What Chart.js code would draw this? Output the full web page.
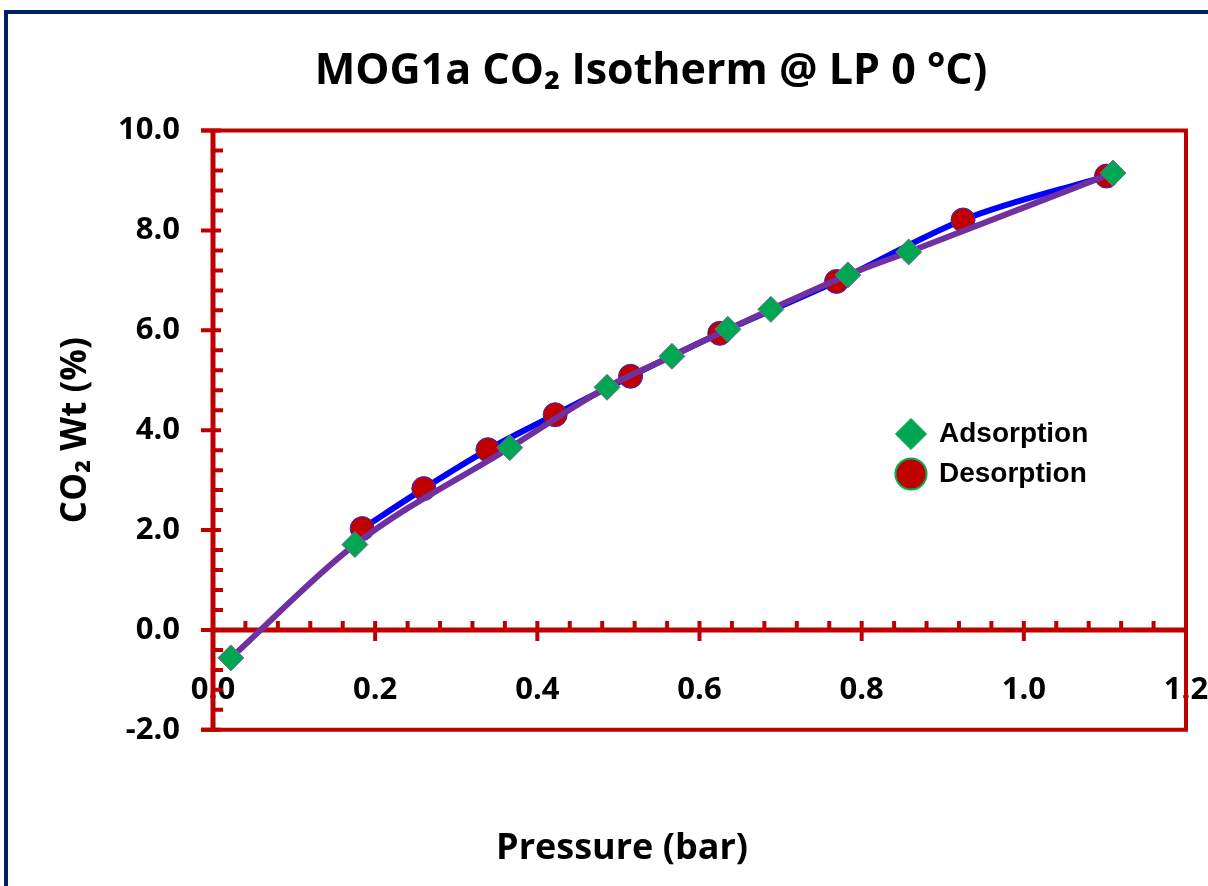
<!DOCTYPE html>
<html>
<head>
<meta charset="utf-8">
<title>MOG1a CO2 Isotherm</title>
<script src="https://cdn.jsdelivr.net/npm/chart.js@4.4.1/dist/chart.umd.min.js"></script>
<style>
  html, body { margin: 0; padding: 0; background: #fff; }
  #wrap { width: 1208px; height: 886px; position: relative; }
</style>
</head>
<body>
<div id="wrap"><canvas id="isoChart"></canvas></div>
<script>
// data
const adsorptionP  = [0.022, 0.175, 0.366, 0.486, 0.566, 0.635, 0.688, 0.783, 0.858, 1.110];
const adsorptionWt = [-0.56, 1.71, 3.65, 4.86, 5.48, 6.02, 6.42, 7.11, 7.57, 9.15];
const desorptionP  = [0.184, 0.260, 0.339, 0.422, 0.515, 0.625, 0.769, 0.925, 1.102];
const desorptionWt = [2.03, 2.83, 3.61, 4.31, 5.08, 5.94, 6.98, 8.21, 9.09];
const xTicks = [0.0, 0.2, 0.4, 0.6, 0.8, 1.0, 1.2];
const yTicks = [-2.0, 0.0, 2.0, 4.0, 6.0, 8.0, 10.0];

const RED = '#C00000';
const FONT = "'Open Sans', 'DejaVu Sans', sans-serif";

function toPoints(xs, ys) {
  return xs.map((x, i) => ({ x: x, y: ys[i] }));
}

// red plot box, axes through zero and the Excel style tick marks
const axesPlugin = {
  id: 'axesPlugin',
  beforeDraw(chart) {
    const ctx = chart.ctx;
    ctx.save();
    ctx.strokeStyle = '#002060';
    ctx.lineWidth = 4;
    ctx.strokeRect(6, 12, 1400, 1000);
    ctx.restore();
  },
  afterLayout(chart) {
    // legend sits inside the plot on the right
    const lg = chart.legend;
    if (lg) {
      const w = lg.width;
      lg.left = 885;
      lg.top = 408;
      lg.right = lg.left + w;
      lg.bottom = lg.top + 200;
    }
    // titles are centred a bit right of the canvas middle
    if (chart.titleBlock) {
      chart.titleBlock.left = 116;
      chart.titleBlock.right = 1186;
    }
    const sub = chart.boxes.find(b => b.options && b.options.text === 'Pressure (bar)');
    if (sub) {
      sub.left = 58;
      sub.right = 1186;
    }
  },
  beforeDatasetsDraw(chart) {
    const { ctx, chartArea: a, scales: { x, y } } = chart;
    const x0 = x.getPixelForValue(0);
    const y0 = y.getPixelForValue(0);
    ctx.save();
    ctx.strokeStyle = RED;
    ctx.lineWidth = 4;
    ctx.lineCap = 'butt';

    // outer box (top, right, bottom)
    ctx.beginPath();
    ctx.moveTo(x0 - 12, a.top);
    ctx.lineTo(a.right, a.top);
    ctx.lineTo(a.right, a.bottom);
    ctx.lineTo(x0 - 12, a.bottom);
    ctx.stroke();

    // axis lines
    ctx.lineWidth = 5;
    ctx.beginPath();
    ctx.moveTo(x0, a.top);
    ctx.lineTo(x0, a.bottom);
    ctx.moveTo(x0, y0);
    ctx.lineTo(a.right, y0);
    ctx.stroke();

    ctx.lineWidth = 4;
    ctx.beginPath();
    // y ticks: major cross the axis, minor point inward
    for (let i = 0; i < yTicks.length; i++) {
      const py = y.getPixelForValue(yTicks[i]);
      ctx.moveTo(x0 - 12, py);
      ctx.lineTo(x0 + 8, py);
      if (i < yTicks.length - 1) {
        const step = (yTicks[i + 1] - yTicks[i]) / 5;
        for (let k = 1; k < 5; k++) {
          const my = y.getPixelForValue(yTicks[i] + k * step);
          ctx.moveTo(x0, my);
          ctx.lineTo(x0 + 10, my);
        }
      }
    }
    // x ticks on the zero line
    for (let i = 0; i < xTicks.length; i++) {
      const px = x.getPixelForValue(xTicks[i]);
      if (i > 0 && i < xTicks.length - 1) {
        ctx.moveTo(px, y0 - 9);
        ctx.lineTo(px, y0 + 11);
      }
      if (i < xTicks.length - 1) {
        const step = (xTicks[i + 1] - xTicks[i]) / 5;
        for (let k = 1; k < 5; k++) {
          const mx = x.getPixelForValue(xTicks[i] + k * step);
          ctx.moveTo(mx, y0);
          ctx.lineTo(mx, y0 - 9);
        }
      }
    }
    ctx.stroke();
    ctx.restore();
  }
};

const ctx = document.getElementById('isoChart').getContext('2d');

new Chart(ctx, {
  type: 'scatter',
  data: {
    datasets: [
      {
        label: 'Adsorption',
        data: toPoints(adsorptionP, adsorptionWt),
        showLine: true,
        borderColor: '#7030A0',
        borderWidth: 6,
        cubicInterpolationMode: 'monotone',
        pointStyle: 'rectRot',
        pointRadius: 13,
        pointBackgroundColor: '#00A651',
        pointBorderColor: '#7A6A9A',
        pointBorderWidth: 1
      },
      {
        label: 'Desorption',
        data: toPoints(desorptionP, desorptionWt),
        showLine: true,
        borderColor: '#0000FF',
        borderWidth: 6,
        cubicInterpolationMode: 'monotone',
        pointStyle: 'circle',
        pointRadius: 12,
        pointBackgroundColor: RED,
        pointBorderColor: '#2A2AD8',
        pointBorderWidth: 1
      }
    ]
  },
  options: {
    responsive: true,
    maintainAspectRatio: false,
    animation: false,
    layout: { padding: { left: 0, right: 22, top: 0, bottom: 0 } },
    plugins: {
      tooltip: { enabled: false },
      title: {
        display: true,
        text: 'MOG1a CO\u2082 Isotherm @ LP 0 \u00B0C)',
        color: '#000',
        font: { family: FONT, size: 43, weight: 'bold', lineHeight: 1.2 },
        padding: { top: 46, bottom: 33 }
      },
      subtitle: {
        display: true,
        position: 'bottom',
        text: 'Pressure (bar)',
        color: '#000',
        font: { family: FONT, size: 36, weight: 'bold', lineHeight: 1.2 },
        padding: { top: 97, bottom: 16 }
      },
      legend: {
        position: 'chartArea',
        align: 'start',
        labels: {
          usePointStyle: true,
          boxHeight: 22,
          padding: 12,
          color: '#000',
          font: { family: "'Liberation Sans', Arial, sans-serif", size: 28, weight: 'bold' },
          generateLabels(chart) {
            const items = Chart.defaults.plugins.legend.labels.generateLabels(chart);
            items.forEach(it => {
              if (it.text === 'Desorption') { it.strokeStyle = '#00B050'; it.lineWidth = 2; }
              else { it.strokeStyle = '#00A651'; it.lineWidth = 1; }
            });
            return items;
          }
        }
      }
    },
    scales: {
      x: {
        type: 'linear',
        position: { y: 0 },
        min: 0,
        max: 1.2,
        grid: { display: false },
        border: { display: false },
        afterFit(s) { s.paddingLeft = 0; s.paddingRight = 0; },
        afterBuildTicks(s) { s.ticks = xTicks.map(v => ({ value: v })); },
        ticks: {
          padding: 34,
          color: '#000',
          font: { family: FONT, size: 31, weight: 'bold' },
          callback: v => v.toFixed(1)
        }
      },
      y: {
        type: 'linear',
        min: -2,
        max: 10,
        grid: { display: false },
        border: { display: false },
        afterFit(s) { s.width = 213; },
        afterBuildTicks(s) { s.ticks = yTicks.map(v => ({ value: v })); },
        title: {
          display: true,
          text: 'CO\u2082 Wt (%)',
          color: '#000',
          font: { family: FONT, size: 35, weight: 'bold', lineHeight: 1.2 },
          padding: { top: 55, bottom: 0 }
        },
        ticks: {
          padding: 25,
          color: '#000',
          font: { family: FONT, size: 31, weight: 'bold' },
          callback: v => v.toFixed(1)
        }
      }
    }
  },
  plugins: [axesPlugin]
});
</script>
</body>
</html>
